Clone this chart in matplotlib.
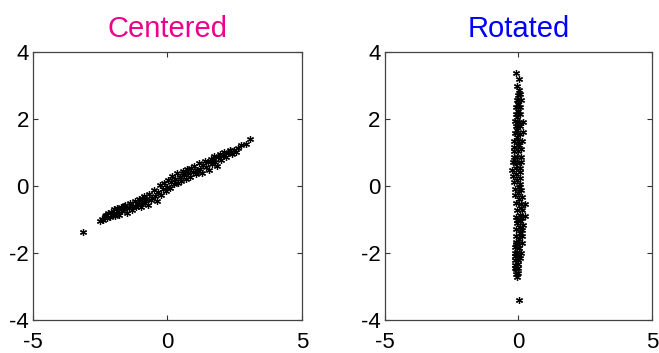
import numpy as np
import matplotlib
matplotlib.use("Agg")
import matplotlib.pyplot as plt

plt.rcParams["font.family"] = ["Liberation Sans", "DejaVu Sans"]

# Mean-centred 2-D sample
centered_x = [
    -3.13, -2.52, -2.45, -2.38, -2.31, -2.28, -2.25, -2.20, -2.14, -2.08,
    -2.03, -1.97, -1.95, -1.92, -1.88, -1.83, -1.79, -1.72, -1.68, -1.62,
    -1.61, -1.56, -1.50, -1.44, -1.39, -1.33, -1.27, -1.22, -1.16, -1.10,
    -1.05, -0.99, -0.95, -0.94, -0.88, -0.83, -0.78, -0.72, -0.67, -0.61,
    -0.56, -0.50, -0.45, -0.40, -0.34, -0.29, -0.24, -0.18, -0.13, -0.07,
    -0.02, 0.04, 0.09, 0.14, 0.19, 0.25, 0.30, 0.36, 0.41, 0.46,
    0.52, 0.57, 0.60, 0.62, 0.68, 0.73, 0.78, 0.84, 0.89, 0.95,
    1.00, 1.06, 1.11, 1.15, 1.17, 1.22, 1.28, 1.33, 1.39, 1.44,
    1.50, 1.55, 1.61, 1.66, 1.70, 1.72, 1.77, 1.83, 1.88, 1.94,
    2.00, 2.06, 2.12, 2.18, 2.25, 2.32, 2.35, 2.40, 2.48, 2.56,
    2.64, 2.72, 2.94, 3.07,
]
centered_y = [
    -1.36, -1.05, -0.98, -1.02, -0.90, -0.86, -0.95, -0.82, -0.92, -0.78,
    -0.86, -0.70, -0.90, -0.80, -0.66, -0.74, -0.88, -0.62, -0.76, -0.60,
    -0.70, -0.58, -0.80, -0.66, -0.52, -0.72, -0.60, -0.45, -0.64, -0.55,
    -0.38, -0.62, -0.35, -0.47, -0.30, -0.52, -0.40, -0.58, -0.25, -0.42,
    -0.35, -0.12, -0.30, -0.45, -0.18, 0.02, -0.26, -0.08, 0.08, -0.15,
    -0.02, 0.18, -0.05, 0.12, 0.30, 0.05, 0.22, 0.40, 0.10, 0.28,
    0.15, 0.45, 0.40, 0.32, 0.20, 0.50, 0.38, 0.26, 0.55, 0.42,
    0.60, 0.35, 0.48, 0.45, 0.68, 0.52, 0.40, 0.62, 0.75, 0.56,
    0.70, 0.48, 0.80, 0.66, 0.75, 0.88, 0.72, 0.60, 0.85, 0.95,
    0.78, 0.90, 1.02, 0.86, 0.98, 1.06, 1.02, 0.94, 1.08, 1.02,
    1.12, 1.22, 1.25, 1.40,
]

titles = ["Centered", "Rotated"]
title_colors = ["#EC008C", "#0000FF"]
x_ticks = [-5, 0, 5]
y_ticks = [-4, -2, 0, 2, 4]

# Rotate onto the principal axes: major axis vertical, minor axis horizontal
pts = np.column_stack([centered_x, centered_y])
_, _, vt = np.linalg.svd(pts - pts.mean(axis=0), full_matrices=False)
major, minor = vt[0], vt[1]
if major[1] < 0:
    major = -major
rotated_x = pts @ minor
rotated_y = pts @ major

fig = plt.figure(figsize=(6.59, 3.53), dpi=100)
ax_l = fig.add_axes([0.050, 0.0935, 0.408, 0.7595])
ax_r = fig.add_axes([0.584, 0.0935, 0.405, 0.7595])

# Six-armed asterisk marker
asterisk = (6, 2, 0)

for ax, (xs, ys), title, color in zip(
    [ax_l, ax_r],
    [(centered_x, centered_y), (rotated_x, rotated_y)],
    titles, title_colors,
):
    ax.plot(xs, ys, linestyle="none", marker=asterisk, color="black",
            markersize=5, markeredgewidth=0.9)
    ax.set_xlim(-5, 5)
    ax.set_ylim(-4, 4)
    ax.set_xticks(x_ticks)
    ax.set_yticks(y_ticks)
    ax.set_xticklabels([str(t) for t in x_ticks])
    ax.set_yticklabels([str(t) for t in y_ticks])
    ax.tick_params(direction="in", length=3.5, width=0.8, color="#333333",
                   labelsize=16, top=True, right=True)
    ax.tick_params(axis="x", pad=9)
    ax.tick_params(axis="y", pad=3)
    for s in ax.spines.values():
        s.set_color("#444444")
        s.set_linewidth(0.9)
    ax.set_title(title, color=color, fontsize=21, pad=11)

fig.savefig("out.png", dpi=100)
